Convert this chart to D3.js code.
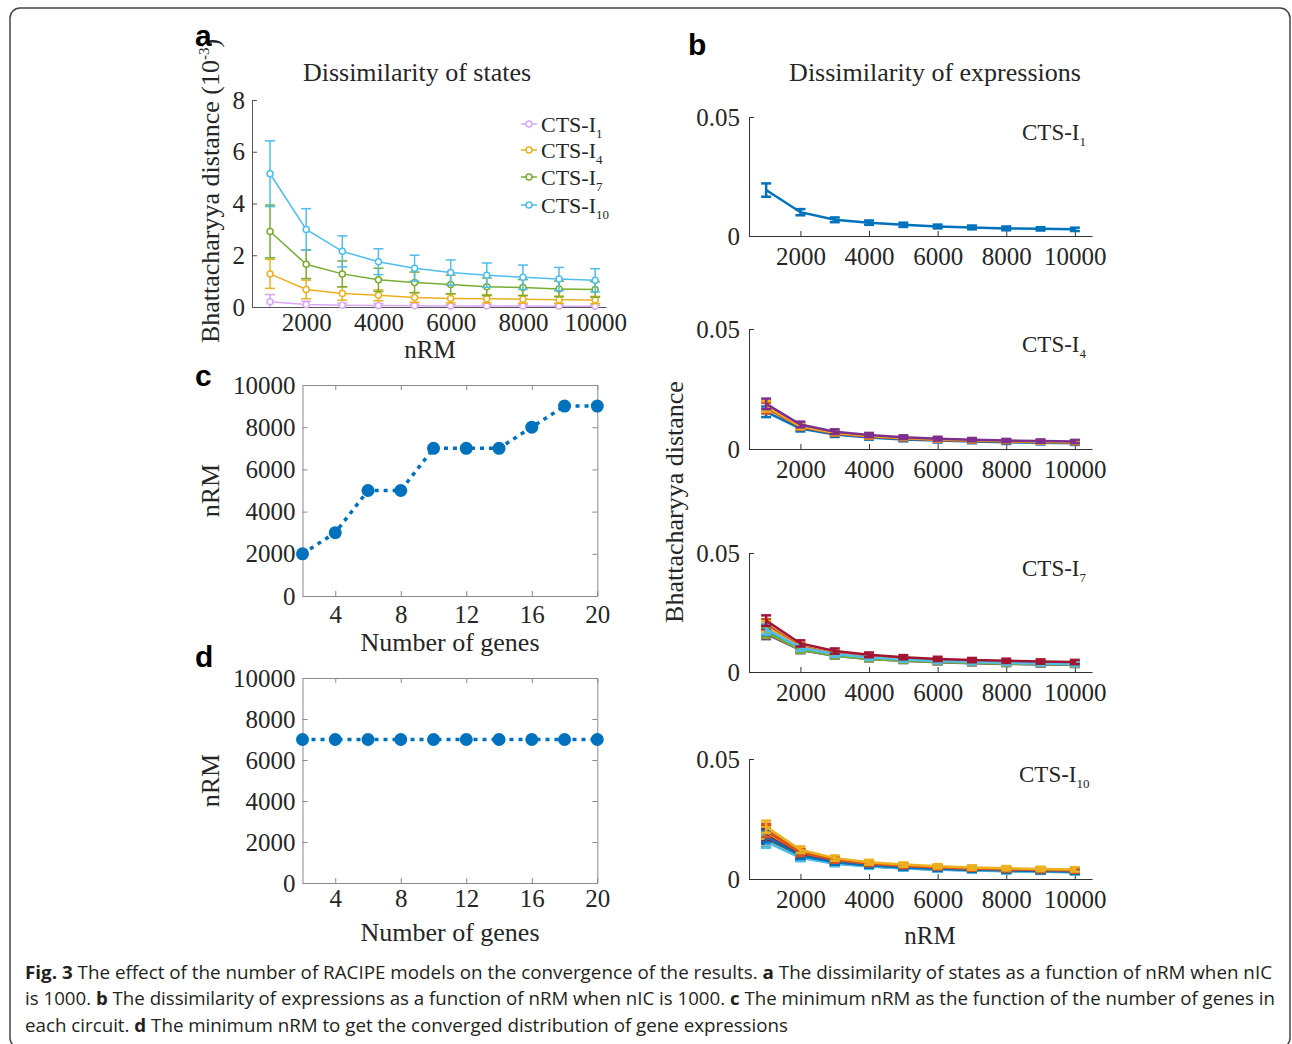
<!DOCTYPE html>
<html>
<head>
<meta charset="utf-8">
<script src="https://cdn.jsdelivr.net/npm/d3@7"></script>
<style>
  body { margin: 0; background: #fff; }
  text { font-family: "Liberation Serif", "Times New Roman", serif; fill: #262626; }
  .lbl { font-family: "Liberation Sans", Arial, sans-serif; font-weight: bold; fill: #000; }
  .cap { font-family: "Open Sans", "Noto Sans", sans-serif; fill: #231f20; }
</style>
</head>
<body>
<div class="canvas"></div>
<script>
// ---- data ----
const nRM = [1000, 2000, 3000, 4000, 5000, 6000, 7000, 8000, 9000, 10000];

// panel a: dissimilarity of states (10^-3)
const statesI1 = [0.20, 0.10, 0.07, 0.06, 0.05, 0.04, 0.04, 0.035, 0.03, 0.03];
const statesI1Err = [0.28, 0.12, 0.08, 0.07, 0.06, 0.05, 0.05, 0.05, 0.04, 0.04];
const statesI4 = [1.28, 0.68, 0.52, 0.45, 0.37, 0.33, 0.32, 0.30, 0.28, 0.27];
const statesI4Err = [0.56, 0.36, 0.26, 0.21, 0.19, 0.17, 0.16, 0.15, 0.14, 0.14];
const statesI7 = [2.92, 1.65, 1.28, 1.05, 0.95, 0.87, 0.78, 0.75, 0.70, 0.68];
const statesI7Err = [1.02, 0.55, 0.50, 0.45, 0.40, 0.36, 0.34, 0.31, 0.30, 0.30];
const statesI10 = [5.15, 3.00, 2.15, 1.75, 1.50, 1.33, 1.23, 1.15, 1.08, 1.03];
const statesI10Err = [1.27, 0.80, 0.60, 0.50, 0.50, 0.49, 0.47, 0.47, 0.45, 0.45];
const stateNames = ['1', '4', '7', '10'];

// panel b: dissimilarity of expressions, one series per gene
const exprI1 = [
  [0.0193, 0.0100, 0.0068, 0.0056, 0.0047, 0.0040, 0.0036, 0.0032, 0.0030, 0.0028]
];
const exprI1Err = [0.0028, 0.0013, 0.0010, 0.0009, 0.0009, 0.0008, 0.0008, 0.0008, 0.0007, 0.0007];
const exprI4 = [
  [0.0155, 0.0085, 0.0060, 0.0048, 0.0040, 0.0035, 0.0031, 0.0028, 0.0026, 0.0024],
  [0.0170, 0.0092, 0.0065, 0.0052, 0.0044, 0.0038, 0.0034, 0.0031, 0.0029, 0.0027],
  [0.0178, 0.0095, 0.0068, 0.0054, 0.0046, 0.0040, 0.0036, 0.0033, 0.0030, 0.0028],
  [0.0188, 0.0102, 0.0072, 0.0058, 0.0049, 0.0043, 0.0039, 0.0035, 0.0033, 0.0031]
];
const exprI4Err = [0.0022, 0.0012, 0.0010, 0.0009, 0.0008, 0.0008, 0.0007, 0.0007, 0.0007, 0.0007];
const exprI7 = [
  [0.0175, 0.0098, 0.0072, 0.0058, 0.0050, 0.0044, 0.0040, 0.0037, 0.0035, 0.0033],
  [0.0200, 0.0108, 0.0078, 0.0063, 0.0054, 0.0048, 0.0043, 0.0040, 0.0038, 0.0036],
  [0.0190, 0.0104, 0.0075, 0.0061, 0.0052, 0.0046, 0.0042, 0.0039, 0.0036, 0.0034],
  [0.0160, 0.0092, 0.0068, 0.0055, 0.0047, 0.0041, 0.0037, 0.0034, 0.0032, 0.0030],
  [0.0165, 0.0093, 0.0068, 0.0055, 0.0047, 0.0042, 0.0038, 0.0035, 0.0033, 0.0031],
  [0.0180, 0.0102, 0.0075, 0.0061, 0.0052, 0.0046, 0.0042, 0.0039, 0.0036, 0.0034],
  [0.0216, 0.0120, 0.0088, 0.0072, 0.0062, 0.0055, 0.0050, 0.0047, 0.0044, 0.0042]
];
const exprI7Err = [0.0022, 0.0013, 0.0011, 0.0010, 0.0009, 0.0009, 0.0009, 0.0009, 0.0009, 0.0009];
const exprI10 = [
  [0.0170, 0.0092, 0.0066, 0.0053, 0.0045, 0.0040, 0.0036, 0.0033, 0.0031, 0.0029],
  [0.0205, 0.0112, 0.0080, 0.0065, 0.0055, 0.0049, 0.0044, 0.0041, 0.0038, 0.0036],
  [0.0190, 0.0104, 0.0075, 0.0061, 0.0052, 0.0046, 0.0042, 0.0039, 0.0036, 0.0034],
  [0.0175, 0.0095, 0.0069, 0.0056, 0.0048, 0.0042, 0.0038, 0.0035, 0.0033, 0.0031],
  [0.0158, 0.0090, 0.0066, 0.0053, 0.0045, 0.0040, 0.0036, 0.0033, 0.0031, 0.0029],
  [0.0155, 0.0088, 0.0064, 0.0052, 0.0044, 0.0039, 0.0035, 0.0032, 0.0030, 0.0028],
  [0.0183, 0.0100, 0.0072, 0.0058, 0.0050, 0.0044, 0.0040, 0.0037, 0.0034, 0.0032],
  [0.0178, 0.0097, 0.0070, 0.0057, 0.0048, 0.0043, 0.0039, 0.0036, 0.0033, 0.0031],
  [0.0200, 0.0110, 0.0079, 0.0064, 0.0054, 0.0048, 0.0043, 0.0040, 0.0037, 0.0035],
  [0.0218, 0.0122, 0.0087, 0.0070, 0.0060, 0.0053, 0.0048, 0.0045, 0.0042, 0.0040]
];
const exprI10Err = [0.0025, 0.0014, 0.0011, 0.0010, 0.0009, 0.0009, 0.0009, 0.0009, 0.0009, 0.0009];

// panels c, d
const genes = [2, 4, 6, 8, 10, 12, 14, 16, 18, 20];
const minRM = [2000, 3000, 5000, 5000, 7000, 7000, 7000, 8000, 9000, 9000];
const minRMExpr = [7000, 7000, 7000, 7000, 7000, 7000, 7000, 7000, 7000, 7000];

const nRMTicks = [2000, 4000, 6000, 8000, 10000];
const stateTicks = [0, 2, 4, 6, 8];
const exprTicks = [0, 0.05];
const geneTicks = [4, 8, 12, 16, 20];
const rmTicks = [0, 2000, 4000, 6000, 8000, 10000];

const matlab = ['#0072BD', '#D95319', '#EDB120', '#7E2F8E', '#77AC30', '#4DBEEE', '#A2142F'];
const stateColors = ['#D9A8F5', '#EDB120', '#77AC30', '#4DBEEE'];

// ---- svg ----
const svg = d3.select('.canvas')
    .append('svg')
    .attr('width', 1292)
    .attr('height', 1044);

// figure frame
svg.append('rect')
    .attr('x', 10).attr('y', 8)
    .attr('width', 1280).attr('height', 1040)
    .attr('rx', 10)
    .attr('fill', 'none')
    .attr('stroke', '#444')
    .attr('stroke-width', 1.5);

const fmt = d3.format('d');

const styleAxis = (g, color) => {
    g.select('.domain').attr('stroke', color);
    g.selectAll('.tick line').attr('stroke', color);
    g.selectAll('.tick text')
        .attr('font-size', 25)
        .attr('fill', '#262626')
        .attr('font-family', '"Liberation Serif", serif');
};

// draw a line with error bars
const errLine = (g, x, y, vals, errs, color, o) => {
    const pts = vals.map((v, i) => ({ x: nRM[i], v, e: errs[i] }));
    g.append('path')
        .datum(pts)
        .attr('fill', 'none')
        .attr('stroke', color)
        .attr('stroke-width', o.lw)
        .attr('d', d3.line().x(d => x(d.x)).y(d => y(d.v)));
    const eb = g.append('g').attr('stroke', color).attr('stroke-width', o.elw);
    pts.forEach(d => {
        const lo = y(Math.max(d.v - d.e, y.domain()[0]));
        const hi = y(d.v + d.e);
        eb.append('line').attr('x1', x(d.x)).attr('x2', x(d.x)).attr('y1', lo).attr('y2', hi);
        eb.append('line').attr('x1', x(d.x) - o.cap).attr('x2', x(d.x) + o.cap).attr('y1', hi).attr('y2', hi);
        if (d.v - d.e > y.domain()[0]) {
            eb.append('line').attr('x1', x(d.x) - o.cap).attr('x2', x(d.x) + o.cap).attr('y1', lo).attr('y2', lo);
        }
    });
    if (o.marker) {
        g.selectAll(null).data(pts).enter()
            .append('circle')
            .attr('cx', d => x(d.x)).attr('cy', d => y(d.v))
            .attr('r', 3)
            .attr('fill', '#fff')
            .attr('stroke', color)
            .attr('stroke-width', 1.5);
    }
};

// ---- panel a ----
{
    const x = d3.scaleLinear().domain([500, 10300]).range([252, 606]);
    const y = d3.scaleLinear().domain([0, 8]).range([307, 100]);
    const g = svg.append('g');

    const xa = g.append('g').attr('transform', 'translate(0,307)')
        .call(d3.axisBottom(x).tickValues(nRMTicks).tickFormat(fmt).tickSizeInner(-5).tickSizeOuter(0).tickPadding(6));
    const ya = g.append('g').attr('transform', 'translate(252,0)')
        .call(d3.axisLeft(y).tickValues(stateTicks).tickFormat(fmt).tickSizeInner(-5).tickSizeOuter(0).tickPadding(7));
    styleAxis(xa, '#555');
    styleAxis(ya, '#555');

    const sets = [[statesI1, statesI1Err], [statesI4, statesI4Err], [statesI7, statesI7Err], [statesI10, statesI10Err]];
    sets.forEach((s, i) => errLine(g, x, y, s[0], s[1], stateColors[i], { lw: 1.5, elw: 1.5, cap: 5, marker: true }));

    // legend
    const lg = g.append('g');
    const ly = [124, 150, 177, 205];
    stateNames.forEach((n, i) => {
        lg.append('line').attr('x1', 521).attr('x2', 537).attr('y1', ly[i]).attr('y2', ly[i])
            .attr('stroke', stateColors[i]).attr('stroke-width', 1.5);
        lg.append('circle').attr('cx', 529).attr('cy', ly[i]).attr('r', 3)
            .attr('fill', '#fff').attr('stroke', stateColors[i]).attr('stroke-width', 1.5);
        const t = lg.append('text').attr('x', 541).attr('y', ly[i] + 8).attr('font-size', 22);
        t.append('tspan').text('CTS-I');
        t.append('tspan').attr('font-size', 13).attr('dy', 6).text(n);
    });

    g.append('text').attr('x', 417).attr('y', 81).attr('text-anchor', 'middle')
        .attr('font-size', 26).text('Dissimilarity of states');
    g.append('text').attr('x', 430).attr('y', 358).attr('text-anchor', 'middle')
        .attr('font-size', 25).text('nRM');
    const yl = g.append('text').attr('transform', 'translate(219,191) rotate(-90)')
        .attr('text-anchor', 'middle').attr('font-size', 26);
    yl.append('tspan').text('Bhattacharyya distance (10');
    yl.append('tspan').attr('font-size', 15).attr('dy', -10).text('-3');
    yl.append('tspan').attr('dy', 10).text(')');
    svg.append('text').attr('class', 'lbl').attr('x', 195).attr('y', 46).attr('font-size', 30).text('a');
}

// ---- panel b ----
{
    const x = d3.scaleLinear().domain([500, 10500]).range([749, 1092]);
    const subs = [
        { data: exprI1, err: exprI1Err, top: 117, bot: 236, name: '1' },
        { data: exprI4, err: exprI4Err, top: 329, bot: 449, name: '4' },
        { data: exprI7, err: exprI7Err, top: 553, bot: 672, name: '7' },
        { data: exprI10, err: exprI10Err, top: 759, bot: 879, name: '10' }
    ];
    subs.forEach(s => {
        const y = d3.scaleLinear().domain([0, 0.05]).range([s.bot, s.top]);
        const g = svg.append('g');
        const xa = g.append('g').attr('transform', `translate(0,${s.bot})`)
            .call(d3.axisBottom(x).tickValues(nRMTicks).tickFormat(fmt).tickSizeInner(-5).tickSizeOuter(0).tickPadding(11));
        const ya = g.append('g').attr('transform', 'translate(749,0)')
            .call(d3.axisLeft(y).tickValues(exprTicks).tickFormat(d => d === 0 ? '0' : d3.format('.2f')(d))
                .tickSizeInner(-5).tickSizeOuter(0).tickPadding(9));
        styleAxis(xa, '#333');
        styleAxis(ya, '#333');
        s.data.forEach((vals, i) => errLine(g, x, y, vals, s.err, matlab[i % 7], { lw: 2.5, elw: 2.5, cap: 5, marker: false }));
        const t = g.append('text').attr('x', s.name === '10' ? 1019 : 1022).attr('y', s.top + 23).attr('font-size', 23);
        t.append('tspan').text('CTS-I');
        t.append('tspan').attr('font-size', 13).attr('dy', 6).text(s.name);
    });
    svg.append('text').attr('x', 935).attr('y', 81).attr('text-anchor', 'middle')
        .attr('font-size', 26).text('Dissimilarity of expressions');
    svg.append('text').attr('x', 930).attr('y', 944).attr('text-anchor', 'middle')
        .attr('font-size', 25).text('nRM');
    svg.append('text').attr('transform', 'translate(683,502) rotate(-90)')
        .attr('text-anchor', 'middle').attr('font-size', 26).text('Bhattacharyya distance');
    svg.append('text').attr('class', 'lbl').attr('x', 688).attr('y', 55).attr('font-size', 30).text('b');
}

// ---- panels c and d ----
const genePanel = (vals, top, bot, label, lblY, xlabY, pad) => {
    const x = d3.scaleLinear().domain([2, 20]).range([302.5, 597.3]);
    const y = d3.scaleLinear().domain([0, 10000]).range([bot, top]);
    const g = svg.append('g');
    const frame = '#8a8a8a';
    const xa = g.append('g').attr('transform', `translate(0,${bot})`)
        .call(d3.axisBottom(x).tickValues(geneTicks).tickFormat(fmt).tickSizeInner(-5).tickSizeOuter(0).tickPadding(pad));
    const ya = g.append('g').attr('transform', 'translate(302.5,0)')
        .call(d3.axisLeft(y).tickValues(rmTicks).tickFormat(fmt).tickSizeInner(-5).tickSizeOuter(0).tickPadding(7));
    const xt = g.append('g').attr('transform', `translate(0,${top})`)
        .call(d3.axisTop(x).tickValues(geneTicks).tickSizeInner(-5).tickSizeOuter(0).tickFormat(''));
    const yr = g.append('g').attr('transform', 'translate(597.3,0)')
        .call(d3.axisRight(y).tickValues(rmTicks).tickSizeInner(-5).tickSizeOuter(0).tickFormat(''));
    [xa, ya, xt, yr].forEach(a => styleAxis(a, frame));

    const pts = vals.map((v, i) => ({ g: genes[i], v }));
    g.append('path').datum(pts)
        .attr('fill', 'none').attr('stroke', '#0072BD').attr('stroke-width', 3.5)
        .attr('stroke-dasharray', '4,5')
        .attr('d', d3.line().x(d => x(d.g)).y(d => y(d.v)));
    g.selectAll(null).data(pts).enter().append('circle')
        .attr('cx', d => x(d.g)).attr('cy', d => y(d.v)).attr('r', 6.5)
        .attr('fill', '#0072BD');

    g.append('text').attr('transform', `translate(219,${(top + bot) / 2}) rotate(-90)`)
        .attr('text-anchor', 'middle').attr('font-size', 26).text('nRM');
    g.append('text').attr('x', 450).attr('y', xlabY).attr('text-anchor', 'middle')
        .attr('font-size', 26).text('Number of genes');
    svg.append('text').attr('class', 'lbl').attr('x', 195).attr('y', lblY).attr('font-size', 30).text(label);
};
genePanel(minRM, 385, 596, 'c', 386, 651, 9);
genePanel(minRMExpr, 678, 883, 'd', 667, 941, 6);

// ---- caption ----
const capLines = [
    [['b', 'Fig. 3'], ['n', ' The effect of the number of RACIPE models on the convergence of the results. '], ['b', 'a'],
     ['n', ' The dissimilarity of states as a function of nRM when nIC']],
    [['n', 'is 1000. '], ['b', 'b'], ['n', ' The dissimilarity of expressions as a function of nRM when nIC is 1000. '], ['b', 'c'],
     ['n', ' The minimum nRM as the function of the number of genes in']],
    [['n', 'each circuit. '], ['b', 'd'], ['n', ' The minimum nRM to get the converged distribution of gene expressions']]
];
const capY = [979, 1005, 1032];
const capLen = [1247, 1250, 763];
capLines.forEach((parts, i) => {
    const t = svg.append('text').attr('class', 'cap')
        .attr('x', 25).attr('y', capY[i]).attr('font-size', 18)
        .attr('textLength', capLen[i]).attr('lengthAdjust', 'spacingAndGlyphs');
    parts.forEach(p => t.append('tspan').attr('font-weight', p[0] === 'b' ? 'bold' : 'normal').text(p[1]));
});
</script>
</body>
</html>
